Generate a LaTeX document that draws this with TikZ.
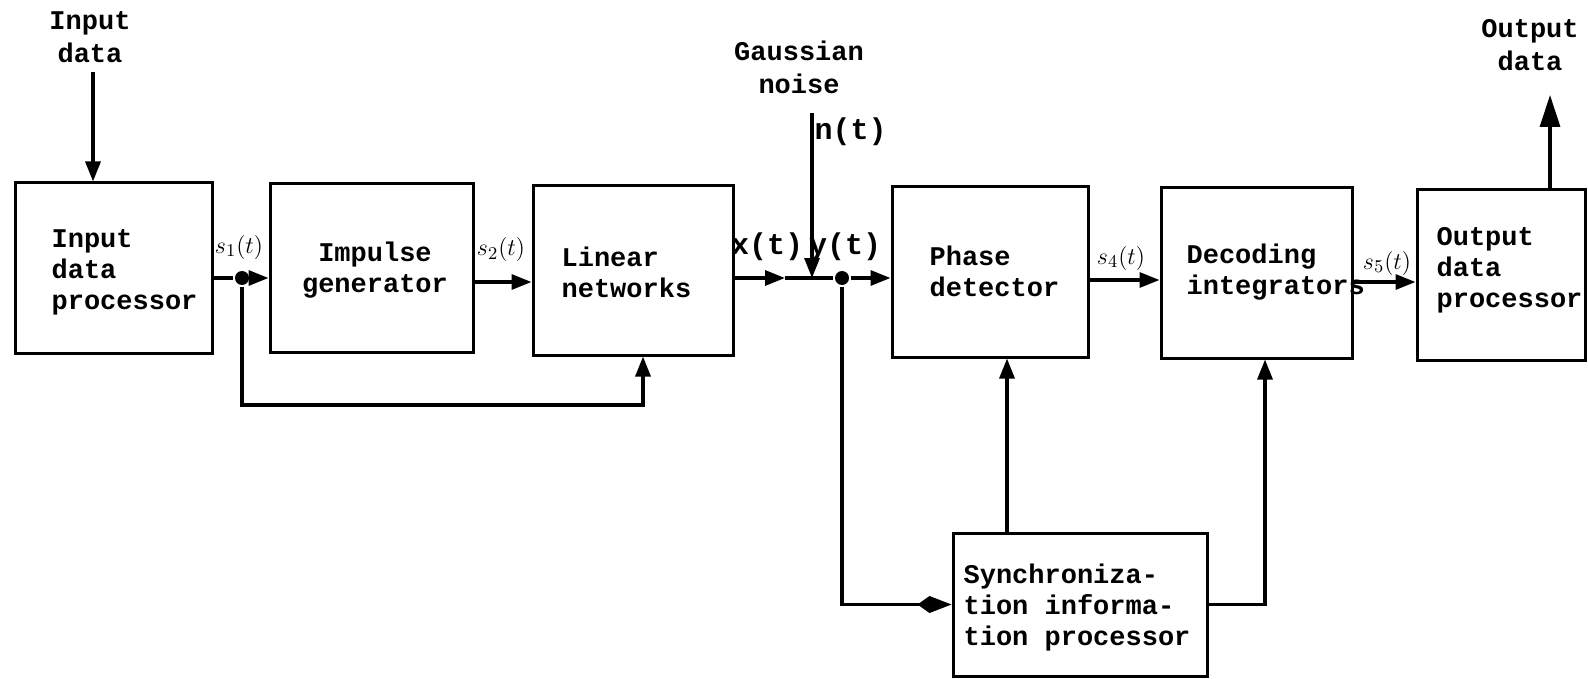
\documentclass[tikz,border=0pt]{standalone}
\usepackage{fontspec}
\setmainfont{Liberation Mono}
\usetikzlibrary{arrows.meta,fit}
\begin{document}
\begin{tikzpicture}[x=0.5pt,y=-0.5pt,
  line width=1.6pt,
  box/.style={draw, line width=1.5pt, inner sep=0pt},
  txt/.style={font=\bfseries\fontsize{13.5}{15.5}\selectfont, inner sep=0pt, align=left},
  hdr/.style={font=\bfseries\fontsize{13.5}{16.5}\selectfont, inner sep=0pt, align=center},
  sig/.style={font=\fontsize{13}{13}\selectfont, inner sep=0pt},
  arg/.style={font=\bfseries\fontsize{15}{16}\selectfont, inner sep=0pt},
  >={Triangle[length=10pt,width=7.5pt]},
  bigtip/.style={-{Triangle[length=16pt,width=10pt]}},
  kitetip/.style={-{Kite[length=17pt,width=8.5pt,inset=6pt]}},
  dot/.style={circle, fill, minimum size=7pt, inner sep=0pt}]
\useasboundingbox (0,0) rectangle (1588,679);
% boxes
\node[box, fit={(15,183) (212,353)}] (inp) {};
\node[box, fit={(270,184) (473,352)}] (imp) {};
\node[box, fit={(533,186) (733,355)}] (lin) {};
\node[box, fit={(892,187) (1088,357)}] (pha) {};
\node[box, fit={(1161,188) (1352,358)}] (dec) {};
\node[box, fit={(1417,190) (1585,360)}] (out) {};
\node[box, fit={(953,533) (1207,676)}] (syn) {};
% box texts
\node[txt, anchor=west] (tinp) at (50,272) {Input\\data\\processor};
\node[txt, align=center] (timp) at (375,270) {Impulse\\generator};
\node[txt, anchor=west] (tlin) at (560,272) {Linear\\networks};
\node[txt, anchor=west] (tpha) at (928,271) {Phase\\detector};
\node[txt, anchor=west] (tdec) at (1185,272) {Decoding\\integrators};
\node[txt, anchor=west] (tout) at (1435,270) {Output\\data\\processor};
\node[txt, anchor=west] (tsyn) at (962,608) {Synchroniza-\\tion informa-\\tion processor};
% headers
\node[hdr] (hin) at (90,37) {Input\\data};
\node[hdr] (hgn) at (799,67) {Gaussian\\noise};
\node[hdr] (hout) at (1530,45) {Output\\data};
% signal labels
\node[sig] (ls1) at (239,247) {$s_1(t)$};
\node[sig] (ls2) at (501,250) {$s_2(t)$};
\node[sig] (ls4) at (1121,258) {$s_4(t)$};
\node[sig] (ls5) at (1387,263) {$s_5(t)$};
\node[arg, anchor=west] (ln) at (813,132) {n(t)};
\node[arg] (lx) at (767,247) {x(t)};
\node[arg] (ly) at (845,247) {y(t)};
% connectors
\coordinate (inTop) at (93,72);
\draw[->] (inTop) -- (inTop |- inp.north);
\node[dot] (d1) at (242,278) {};
\draw (inp.east |- d1) -- (d1);
\draw[->] (d1) -- (imp.west |- d1);
\coordinate (s2) at (473,282);
\draw[->] (imp.east |- s2) -- (lin.west |- s2);
\coordinate (fb) at (643,405);
\draw[->] (d1) |- (fb) -- (fb |- lin.south);
\coordinate (sum) at (812,278);
\coordinate (xm) at (785,278);
\draw[->] (lin.east |- sum) -- (xm);
\draw (xm) -- (sum);
\coordinate (nTop) at (812,113);
\draw[->] (nTop) -- (sum);
\node[dot] (d2) at (842,278) {};
\draw (sum) -- (d2);
\draw[->] (d2) -- (pha.west |- d2);
\draw[kitetip] (d2) |- (syn.west);
\coordinate (pu) at (1007,450);
\draw[->] (syn.north -| pu) -- (pha.south -| pu);
\coordinate (s4) at (1088,280);
\draw[->] (pha.east |- s4) -- (dec.west |- s4);
\coordinate (du) at (1265,450);
\draw[->] (syn.east) -| (du |- dec.south);
\coordinate (s5) at (1352,282);
\draw[->] (dec.east |- s5) -- (out.west |- s5);
\coordinate (oTop) at (1550,95);
\draw[bigtip] (out.north -| oTop) -- (oTop);
\end{tikzpicture}
\end{document}
